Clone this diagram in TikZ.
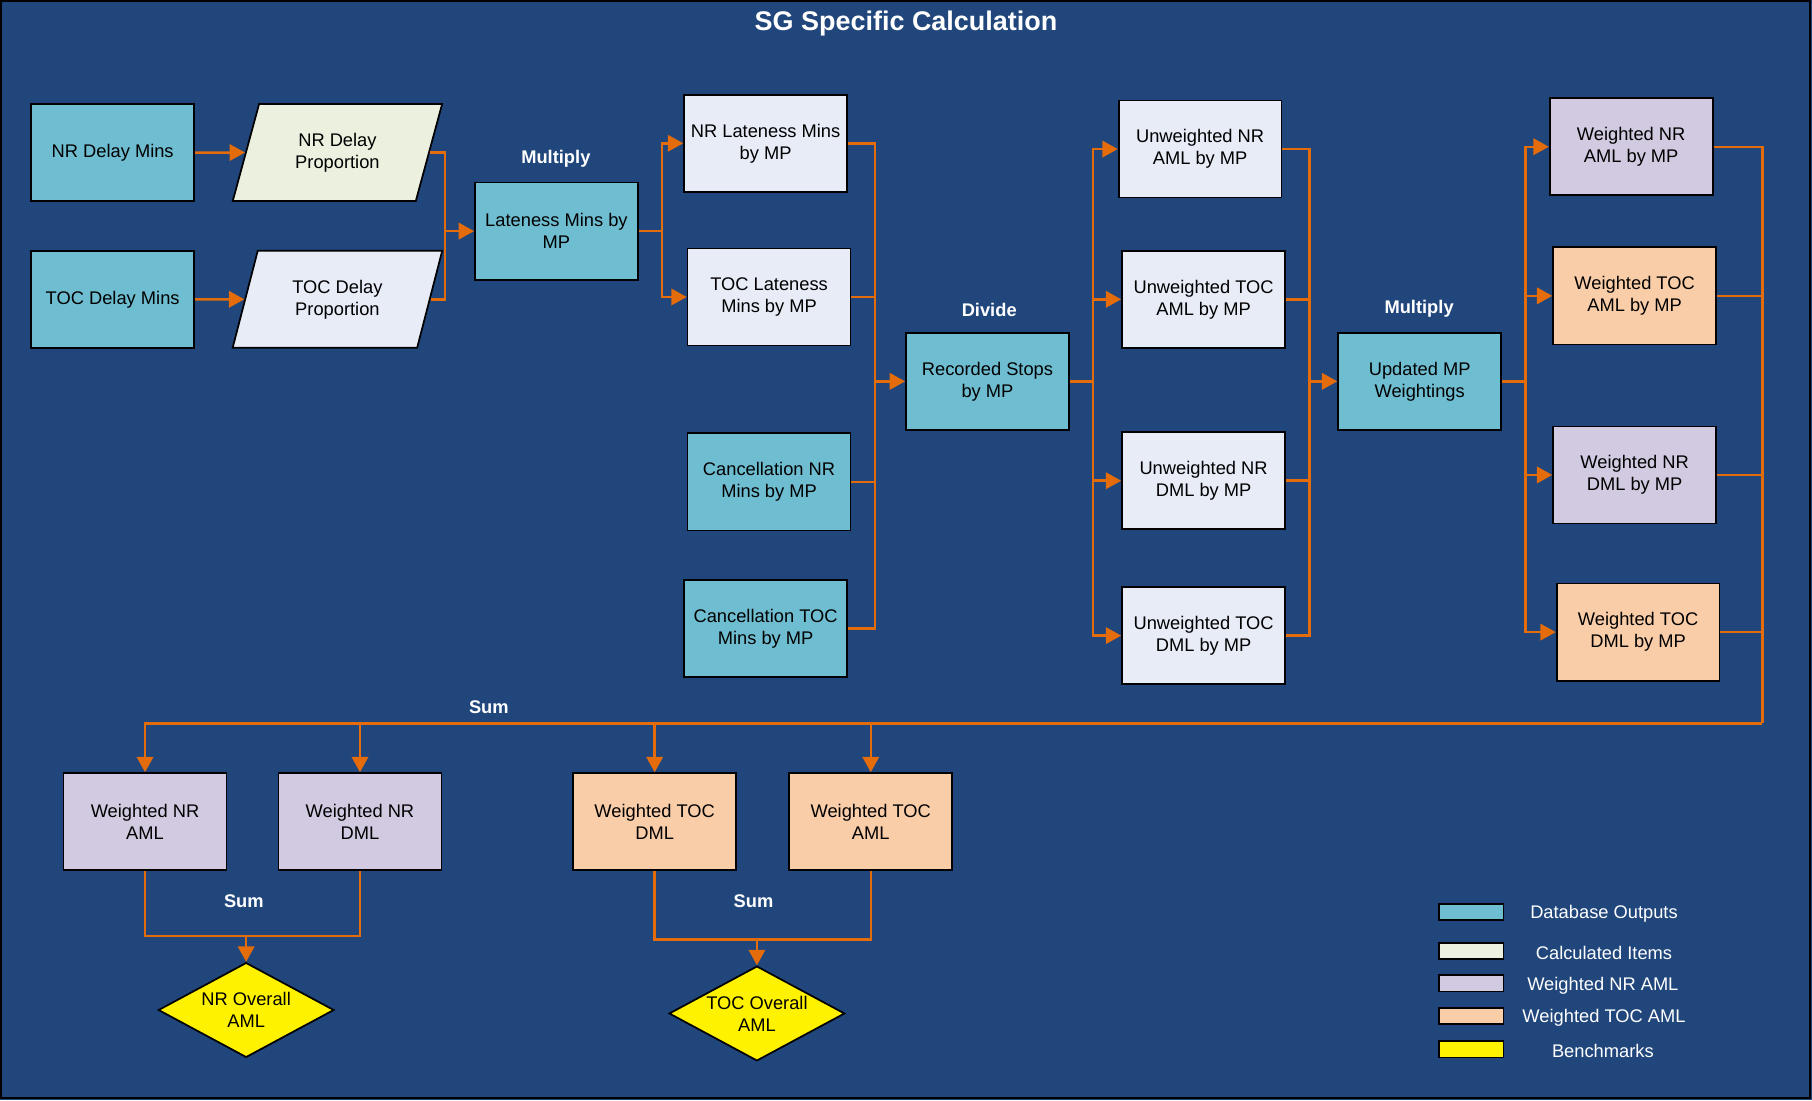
\documentclass[tikz,border=0pt]{standalone}
\usepackage{fontspec}
\setmainfont{Liberation Sans}
\usetikzlibrary{arrows.meta,shapes.geometric}
\definecolor{bgblue}{RGB}{32,70,123}
\definecolor{teal}{HTML}{6FBDD1}
\definecolor{cream}{HTML}{EBF1DE}
\definecolor{paleblue}{HTML}{E7ECF7}
\definecolor{lav}{HTML}{D2CAE0}
\definecolor{peach}{HTML}{FACDA9}
\definecolor{conn}{HTML}{E46C0A}
\tikzset{
  txt/.style={font=\fontsize{9.5}{11.4}\selectfont, align=center, text=black},
  box/.style={txt, draw=black, line width=0.9pt, rectangle, minimum width=84.6pt, minimum height=50.4pt, inner sep=1pt},
  para/.style={txt, draw=black, line width=0.9pt, trapezium, trapezium left angle=70, trapezium right angle=110, trapezium stretches=true, minimum width=109.2pt, minimum height=50.4pt, inner sep=0pt},
  dia/.style={txt, draw=black, line width=0.9pt, diamond, aspect=1.85, fill=yellow, minimum width=91.2pt, minimum height=49.2pt, inner sep=-3pt},
  oplabel/.style={font=\bfseries\fontsize{9.5}{11.4}\selectfont, text=white},
  legbox/.style={draw=black, line width=0.9pt, minimum width=33.6pt, minimum height=8.4pt, inner sep=0pt},
  legtxt/.style={font=\fontsize{9.5}{11.4}\selectfont, text=white},
  wire/.style={draw=conn, line width=1.3pt},
  arr/.style={wire, -{Triangle[length=8pt,width=8.5pt]}},
}
\begin{document}
\begin{tikzpicture}[x=0.6pt,y=-0.6pt]
\useasboundingbox (0,0) rectangle (1568,952);
\fill[bgblue] (0,0) rectangle (1568,952);
\draw[black, line width=1pt] (1,1) rectangle (1566,950);

\node[font=\bfseries\fontsize{14}{16}\selectfont, text=white] (title) at (784,20) {SG Specific Calculation};

% column 1
\node[box, fill=teal] (ndm) at (97.5,132) {NR Delay Mins};
\node[box, fill=teal] (tdm) at (97.5,259) {TOC Delay Mins};
\node[para, fill=cream] (ndp) at (292,132) {NR Delay\\Proportion};
\node[para, fill=paleblue] (tdp) at (292,259) {TOC Delay\\Proportion};

\node[oplabel] (mul1) at (481,137) {Multiply};
\node[box, fill=teal] (lat) at (481.5,200) {Lateness Mins by\\MP};

\node[box, fill=paleblue] (nrl) at (662.5,124) {NR Lateness Mins\\by MP};
\node[box, fill=paleblue] (tocl) at (665.5,257) {TOC Lateness\\Mins by MP};
\node[box, fill=teal] (cnr) at (665.5,417) {Cancellation NR\\Mins by MP};
\node[box, fill=teal] (ctoc) at (662.5,544) {Cancellation TOC\\Mins by MP};

\node[oplabel] (div) at (856,268) {Divide};
\node[box, fill=teal] (rs) at (854.5,330) {Recorded Stops\\by MP};

\node[box, fill=paleblue] (unaml) at (1038.5,129) {Unweighted NR\\AML by MP};
\node[box, fill=paleblue] (utaml) at (1041.5,259) {Unweighted TOC\\AML by MP};
\node[box, fill=paleblue] (undml) at (1041.5,416) {Unweighted NR\\DML by MP};
\node[box, fill=paleblue] (utdml) at (1041.5,550) {Unweighted TOC\\DML by MP};

\node[oplabel] (mul2) at (1228,267) {Multiply};
\node[box, fill=teal] (ump) at (1228.5,330) {Updated MP\\Weightings};

\node[box, fill=lav] (wnaml) at (1411.5,127) {Weighted NR\\AML by MP};
\node[box, fill=peach] (wtaml) at (1414.5,256) {Weighted TOC\\AML by MP};
\node[box, fill=lav] (wndml) at (1414.5,411) {Weighted NR\\DML by MP};
\node[box, fill=peach] (wtdml) at (1417.5,547) {Weighted TOC\\DML by MP};

\node[oplabel] (sum1) at (423,612) {Sum};
\node[box, fill=lav] (bnaml) at (125.5,711) {Weighted NR\\AML};
\node[box, fill=lav] (bndml) at (311.5,711) {Weighted NR\\DML};
\node[box, fill=peach] (btdml) at (566.5,711) {Weighted TOC\\DML};
\node[box, fill=peach] (btaml) at (753.5,711) {Weighted TOC\\AML};

\node[oplabel] (sum2) at (211,780) {Sum};
\node[oplabel] (sum3) at (652,780) {Sum};
\node[dia] (nro) at (213,874) {NR Overall\\AML};
\node[dia] (toco) at (655,877) {TOC Overall\\AML};

% legend
\node[legbox, fill=teal] (lg1) at (1273,789) {};
\node[legbox, fill=cream] (lg2) at (1273,823) {};
\node[legbox, fill=lav] (lg3) at (1273,851) {};
\node[legbox, fill=peach] (lg4) at (1273,879) {};
\node[legbox, fill=yellow] (lg5) at (1273,908) {};
\node[legtxt] (lt1) at (1388,791) {Database Outputs};
\node[legtxt] (lt2) at (1388,825) {Calculated Items};
\node[legtxt] (lt3) at (1387,853) {Weighted NR AML};
\node[legtxt] (lt4) at (1388,881) {Weighted TOC AML};
\node[legtxt] (lt5) at (1387,909) {Benchmarks};

% bus coordinates
\coordinate (busA) at (385,200);
\coordinate (busB) at (573,200);
\coordinate (busC) at (757,330);
\coordinate (busD) at (946,330);
\coordinate (busE) at (1133,330);
\coordinate (busF) at (1320,330);
\coordinate (busG) at (1525,626);
\coordinate (sumN) at (213,810);
\coordinate (sumT) at (655,813);

% connectors
\draw[arr] (ndm.east) -- (ndp.west);
\draw[arr] (tdm.east) -- (tdp.west);
\draw[wire] (ndp.east) -| (busA);
\draw[wire] (tdp.east) -| (busA);
\draw[arr] (busA) -- (lat.west);

\draw[wire] (lat.east) -- (busB);
\draw[arr] (busB) |- (nrl.west);
\draw[arr] (busB) |- (tocl.west);

\draw[wire] (nrl.east) -| (busC);
\draw[wire] (tocl.east) -| (busC);
\draw[wire] (cnr.east) -| (busC);
\draw[wire] (ctoc.east) -| (busC);
\draw[arr] (busC) -- (rs.west);

\draw[wire] (rs.east) -- (busD);
\draw[arr] (busD) |- (unaml.west);
\draw[arr] (busD) |- (utaml.west);
\draw[arr] (busD) |- (undml.west);
\draw[arr] (busD) |- (utdml.west);

\draw[wire] (unaml.east) -| (busE);
\draw[wire] (utaml.east) -| (busE);
\draw[wire] (undml.east) -| (busE);
\draw[wire] (utdml.east) -| (busE);
\draw[arr] (busE) -- (ump.west);

\draw[wire] (ump.east) -- (busF);
\draw[arr] (busF) |- (wnaml.west);
\draw[arr] (busF) |- (wtaml.west);
\draw[arr] (busF) |- (wndml.west);
\draw[arr] (busF) |- (wtdml.west);

\draw[wire] (wnaml.east) -| (busG);
\draw[wire] (wtaml.east) -| (busG);
\draw[wire] (wndml.east) -| (busG);
\draw[wire] (wtdml.east) -| (busG);
\draw[arr] (busG) -| (bnaml.north);
\draw[arr] (busG) -| (bndml.north);
\draw[arr] (busG) -| (btdml.north);
\draw[arr] (busG) -| (btaml.north);

\draw[wire] (bnaml.south) |- (sumN);
\draw[wire] (bndml.south) |- (sumN);
\draw[arr] (sumN) -- (nro.north);
\draw[wire] (btdml.south) |- (sumT);
\draw[wire] (btaml.south) |- (sumT);
\draw[arr] (sumT) -- (toco.north);
\end{tikzpicture}
\end{document}
